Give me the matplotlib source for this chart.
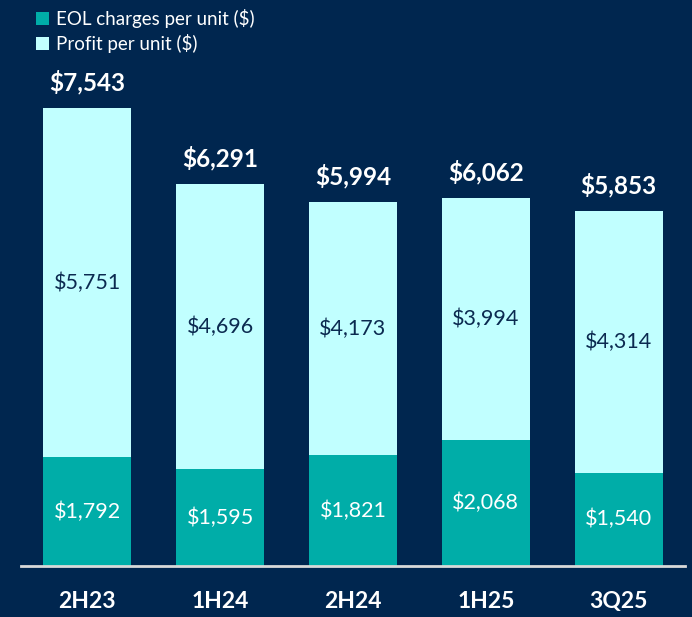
import numpy as np
import matplotlib.pyplot as plt

periods = ['2H23', '1H24', '2H24', '1H25', '3Q25']
eol = [1792, 1595, 1821, 2068, 1540]
profit = [5751, 4696, 4173, 3994, 4314]
totals = [7543, 6291, 5994, 6062, 5853]

bg = '#00264f'
teal = '#00ada8'
light = '#c1ffff'

plt.rcParams['font.family'] = ['Lato', 'DejaVu Sans']

fig = plt.figure(figsize=(6.92, 6.17), dpi=100, facecolor=bg)
ax = fig.add_axes([21 / 692, 51 / 617, 664 / 692, 566 / 617])
ax.set_facecolor(bg)

x = np.arange(len(periods))
w = 0.662
b1 = ax.bar(x, eol, w, color=teal, label='EOL charges per unit ($)')
b2 = ax.bar(x, profit, w, bottom=eol, color=light, label='Profit per unit ($)')

for i in range(len(periods)):
    ax.text(x[i], eol[i] / 2, '${:,}'.format(eol[i]), ha='center', va='center',
            color='white', fontsize=15.5)
    ax.text(x[i], eol[i] + profit[i] / 2, '${:,}'.format(profit[i]), ha='center',
            va='center', color='#0b2a50', fontsize=15.5)
    ax.text(x[i], totals[i] + 220, '${:,}'.format(totals[i]), ha='center',
            va='bottom', color='white', fontsize=17.5, fontweight='bold')
    ax.text(x[i], -590, periods[i], ha='center', va='center', color='white',
            fontsize=16.5, fontweight='bold')

ax.set_xlim(-0.5, 4.5)
ax.set_ylim(0, 9325)
ax.axhline(0, color='#d9d9d9', lw=2, clip_on=False)
ax.axis('off')

leg = fig.legend(handles=[b1, b2], loc='upper left', bbox_to_anchor=(19 / 692, 1.012),
                 frameon=False, fontsize=13.5, labelcolor='white', handlelength=0.7,
                 handleheight=0.7, handletextpad=0.4, labelspacing=0.3)

fig.savefig('out.png', dpi=100, facecolor=bg)
